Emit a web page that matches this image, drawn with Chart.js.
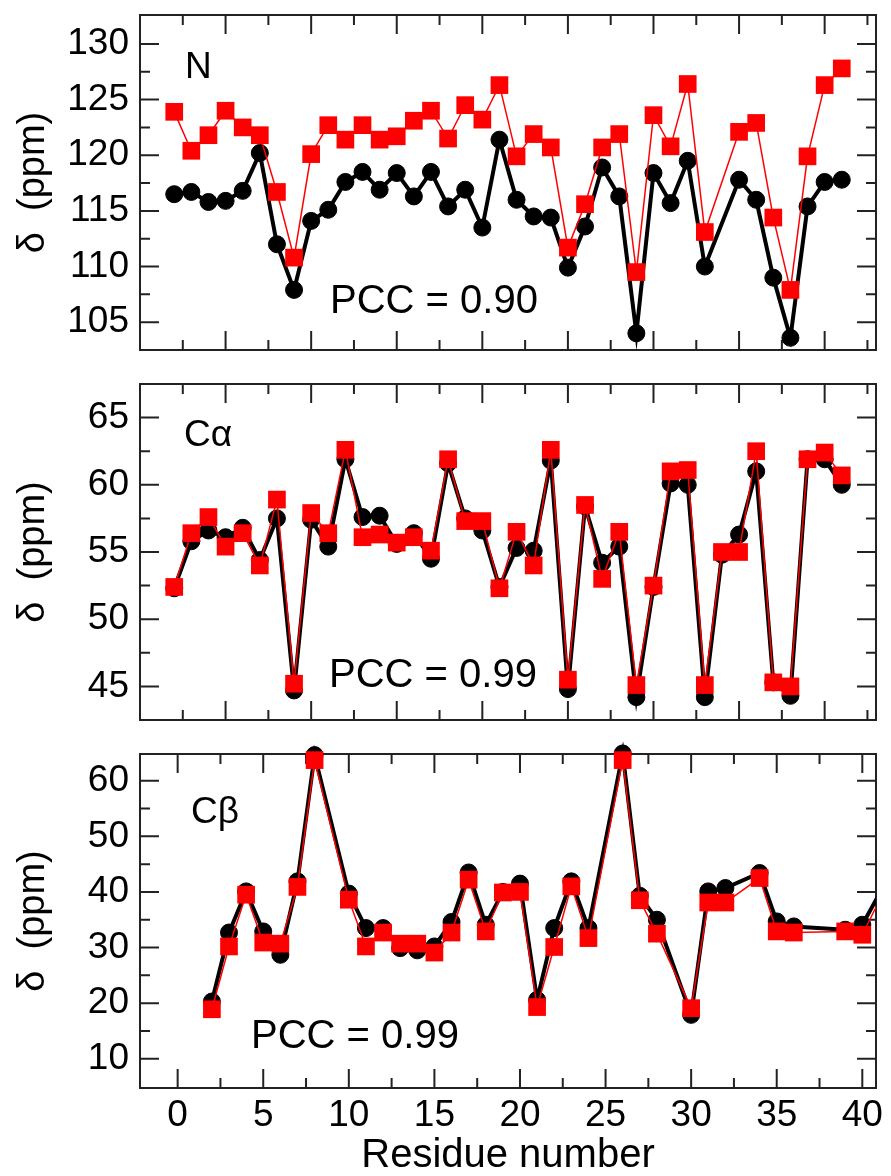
<!DOCTYPE html>
<html>
<head>
<meta charset="utf-8">
<title>Chemical shifts</title>
<script src="https://cdn.jsdelivr.net/npm/chart.js@4.4.1/dist/chart.umd.min.js"></script>
<style>
  html, body { margin: 0; padding: 0; background: #fff; }
  .panel { position: absolute; left: 0; width: 891px; }
</style>
</head>
<body>
<div class="panel" style="top:0;height:367px"><canvas id="chartN"></canvas></div>
<div class="panel" style="top:367px;height:370px"><canvas id="chartCA"></canvas></div>
<div class="panel" style="top:737px;height:439px"><canvas id="chartCB"></canvas></div>
<script>
const residues = [2, 3, 4, 5, 6, 7, 8, 9, 10, 11, 12, 13, 14, 15, 16, 17, 18, 19, 20, 21,
  22, 23, 24, 25, 26, 27, 28, 29, 30, 31, 32, 33, 34, 35, 36, 37, 38, 39, 40, 41];

// black circles / red squares
const nBlack = [116.5, 116.7, 115.8, 115.9, 116.8, 120.2, 112.0, 107.9, 114.1, 115.1,
  117.6, 118.5, 116.9, 118.4, 116.3, 118.5, 115.4, 116.9, 113.5, 121.4,
  116.0, 114.5, 114.4, 109.9, 113.6, 118.9, 116.3, 104.0, 118.4, 115.7,
  119.5, 110.0, null, 117.8, 116.0, 109.0, 103.6, 115.4, 117.6, 117.8];
const nRed = [123.9, 120.4, 121.8, 124.0, 122.5, 121.8, 116.7, 110.8, 120.1, 122.7,
  121.4, 122.7, 121.4, 121.7, 123.1, 124.0, 121.5, 124.5, 123.2, 126.3,
  119.9, 121.9, 120.7, 111.7, 115.6, 120.7, 121.9, 109.5, 123.6, 120.8,
  126.4, 113.1, null, 122.1, 122.9, 114.4, 107.9, 119.9, 126.3, 127.8];

const caBlack = [52.3, 55.8, 56.6, 56.1, 56.8, 54.4, 57.5, 44.7, 57.4, 55.4,
  61.9, 57.6, 57.7, 55.6, 56.4, 54.5, 61.6, 57.5, 56.6, 52.4,
  55.3, 55.1, 61.8, 44.8, 58.4, 54.2, 55.4, 44.2, 52.4, 60.1,
  60.0, 44.2, 54.8, 56.3, 61.0, 45.3, 44.3, 61.9, 61.9, 60.0];
const caRed = [52.4, 56.4, 57.6, 55.4, 56.4, 54.0, 58.9, 45.2, 57.9, 56.4,
  62.6, 56.1, 56.3, 55.7, 56.1, 55.1, 61.9, 57.3, 57.3, 52.3,
  56.5, 54.0, 62.6, 45.5, 58.5, 53.0, 56.5, 45.1, 52.5, 61.0,
  61.1, 45.1, 55.0, 55.0, 62.5, 45.3, 45.0, 61.9, 62.4, 60.7];

const cbBlack = [20.3, 32.7, 40.1, 32.9, 28.7, 41.9, 64.6, null, 39.7, 33.5,
  33.5, 29.9, 29.5, 30.2, 34.6, 43.5, 34.1, 40.0, 41.5, 20.6,
  33.5, 41.9, 33.5, null, 64.9, 39.3, 35.0, null, 17.9, 40.1,
  40.7, null, 43.4, 34.7, 33.8, null, null, 33.2, 34.1, 39.7];
const cbRed = [18.9, 30.2, 39.5, 30.9, 30.7, 40.9, 63.7, null, 38.6, 30.2,
  32.7, 30.7, 30.7, 29.1, 32.7, 42.2, 32.9, 39.9, 40.0, 19.3,
  30.1, 41.0, 31.7, null, 63.7, 38.5, 32.5, null, 19.1, 38.1,
  38.1, null, 42.5, 32.9, 32.7, null, null, 32.9, 32.3, 38.5];

const topTicksX = [2.5, 5, 7.5, 10, 12.5, 15, 17.5, 20, 22.5, 25, 27.5, 30, 32.5, 35, 37.5, 40, 42.5];
const bottomTicksX = [0, 2.5, 5, 7.5, 10, 12.5, 15, 17.5, 20, 22.5, 25, 27.5, 30, 32.5, 35, 37.5, 40];
const nTicksY = [105, 107.5, 110, 112.5, 115, 117.5, 120, 122.5, 125, 127.5, 130];
const caTicksY = [45, 47.5, 50, 52.5, 55, 57.5, 60, 62.5, 65];
const cbTicksY = [10, 15, 20, 25, 30, 35, 40, 45, 50, 55, 60];

const FONT = "'Liberation Sans', Arial, Helvetica, sans-serif";

// frame with inward ticks on all four sides, plus the panel texts
const frameTicks = {
  id: "frameTicks",
  beforeDatasetsDraw(chart, args, opts) {
    const ctx = chart.ctx;
    const a = chart.chartArea;
    const xs = chart.scales.x;
    const ys = chart.scales.y;
    ctx.save();
    ctx.strokeStyle = "#222";
    ctx.lineWidth = 2;
    ctx.strokeRect(a.left, a.top, a.right - a.left, a.bottom - a.top);
    ctx.beginPath();
    xs.ticks.forEach(function(t) {
      const px = xs.getPixelForValue(t.value);
      const len = t.value % 5 === 0 ? 19 : 10;
      ctx.moveTo(px, a.bottom);
      ctx.lineTo(px, a.bottom - len);
      ctx.moveTo(px, a.top);
      ctx.lineTo(px, a.top + len);
    });
    ys.ticks.forEach(function(t) {
      const py = ys.getPixelForValue(t.value);
      const len = t.value % opts.yMajor === 0 ? 19 : 10;
      ctx.moveTo(a.left, py);
      ctx.lineTo(a.left + len, py);
      ctx.moveTo(a.right, py);
      ctx.lineTo(a.right - len, py);
    });
    ctx.stroke();
    ctx.restore();
  },
  afterDraw(chart, args, opts) {
    const ctx = chart.ctx;
    const a = chart.chartArea;
    ctx.save();
    ctx.fillStyle = "#000";
    ctx.textBaseline = "alphabetic";
    ctx.font = "37px " + FONT;
    ctx.fillText(opts.name, a.left + opts.nameX, a.top + opts.nameY);
    ctx.font = "40px " + FONT;
    ctx.fillText(opts.pcc, a.left + opts.pccX, a.top + opts.pccY);
    ctx.restore();
  }
};

function makeChart(id, cfg) {
  const ctx = document.getElementById(id).getContext("2d");
  const hideOutside = function(c) {
    return c.raw && c.raw.x > cfg.xMax ? 0 : undefined;
  };
  return new Chart(ctx, {
    type: "line",
    plugins: [frameTicks],
    data: {
      datasets: [
        {
          label: "black",
          data: residues.map((r, i) => ({ x: r, y: cfg.black[i] })),
          borderColor: "#000",
          backgroundColor: "#000",
          borderWidth: 4,
          pointStyle: "circle",
          pointRadius: c => hideOutside(c) === 0 ? 0 : 8.5,
          pointBorderWidth: 1,
          pointBackgroundColor: "#000",
          pointBorderColor: "#000",
          spanGaps: true,
          tension: 0,
          order: 2,
          clip: { left: 12, top: 12, right: 0, bottom: 12 }
        },
        {
          label: "red",
          data: residues.map((r, i) => ({ x: r, y: cfg.red[i] })),
          borderColor: "#ff0000",
          backgroundColor: "#ff0000",
          borderWidth: 1.5,
          pointStyle: "rect",
          pointRadius: c => hideOutside(c) === 0 ? 0 : 12.5,
          pointBorderWidth: 0,
          pointBackgroundColor: "#ff0000",
          spanGaps: true,
          tension: 0,
          order: 1,
          clip: { left: 12, top: 12, right: 0, bottom: 12 }
        }
      ]
    },
    options: {
      responsive: true,
      maintainAspectRatio: false,
      animation: false,
      events: [],
      layout: { padding: { top: cfg.padTop, right: 15, bottom: 0, left: 0 } },
      plugins: {
        legend: { display: false },
        tooltip: { enabled: false },
        frameTicks: {
          yMajor: cfg.yMajor,
          name: cfg.name, nameX: cfg.nameX, nameY: cfg.nameY,
          pcc: cfg.pcc, pccX: cfg.pccX, pccY: cfg.pccY
        }
      },
      scales: {
        x: {
          type: "linear",
          min: cfg.xMin,
          max: cfg.xMax,
          grid: { display: false, drawTicks: false },
          border: { display: false },
          afterBuildTicks: s => { s.ticks = cfg.xTicks.map(v => ({ value: v })); },
          afterFit: s => { s.height = cfg.xHeight; s.paddingLeft = 0; s.paddingRight = 0; },
          ticks: {
            display: cfg.xLabels,
            autoSkip: false,
            maxRotation: 0,
            padding: 6,
            color: "#000",
            font: { family: FONT, size: 37, lineHeight: 1.2 },
            callback: v => v % 5 === 0 ? String(v) : ""
          },
          title: {
            display: cfg.xLabels,
            text: "Residue number",
            color: "#000",
            font: { family: FONT, size: 40, lineHeight: 1 },
            padding: { top: 0, bottom: 0 }
          }
        },
        y: {
          min: cfg.yMin,
          max: cfg.yMax,
          grid: { display: false, drawTicks: false },
          border: { display: false },
          afterBuildTicks: s => { s.ticks = cfg.yTicks.map(v => ({ value: v })); },
          afterFit: s => { s.width = 140; s.paddingTop = 0; s.paddingBottom = 0; },
          ticks: {
            autoSkip: false,
            padding: 11,
            color: "#000",
            font: { family: FONT, size: 37, lineHeight: 1.2 },
            callback: v => v % cfg.yMajor === 0 ? String(v) : ""
          },
          title: {
            display: true,
            text: "δ  (ppm)",
            color: "#000",
            font: { family: FONT, size: 38 },
            padding: { top: 11, bottom: 0 }
          }
        }
      }
    }
  });
}

makeChart("chartN", {
  black: nBlack, red: nRed,
  xMin: 0, xMax: 43, xTicks: topTicksX, xLabels: false, xHeight: 17,
  yMin: 102.5, yMax: 132.6, yTicks: nTicksY, yMajor: 5,
  padTop: 15,
  name: "N", nameX: 45, nameY: 63,
  pcc: "PCC = 0.90", pccX: 190, pccY: 298
});

makeChart("chartCA", {
  black: caBlack, red: caRed,
  xMin: 0, xMax: 43, xTicks: topTicksX, xLabels: false, xHeight: 17,
  yMin: 42.5, yMax: 67.5, yTicks: caTicksY, yMajor: 5,
  padTop: 17,
  name: "Cα", nameX: 44, nameY: 62,
  pcc: "PCC = 0.99", pccX: 189, pccY: 303
});

makeChart("chartCB", {
  black: cbBlack, red: cbRed,
  xMin: -2.2, xMax: 40.8, xTicks: bottomTicksX, xLabels: true, xHeight: 88,
  yMin: 4.75, yMax: 64.8, yTicks: cbTicksY, yMajor: 10,
  padTop: 17,
  name: "Cβ", nameX: 51, nameY: 69,
  pcc: "PCC = 0.99", pccX: 111, pccY: 294
});
</script>
</body>
</html>
